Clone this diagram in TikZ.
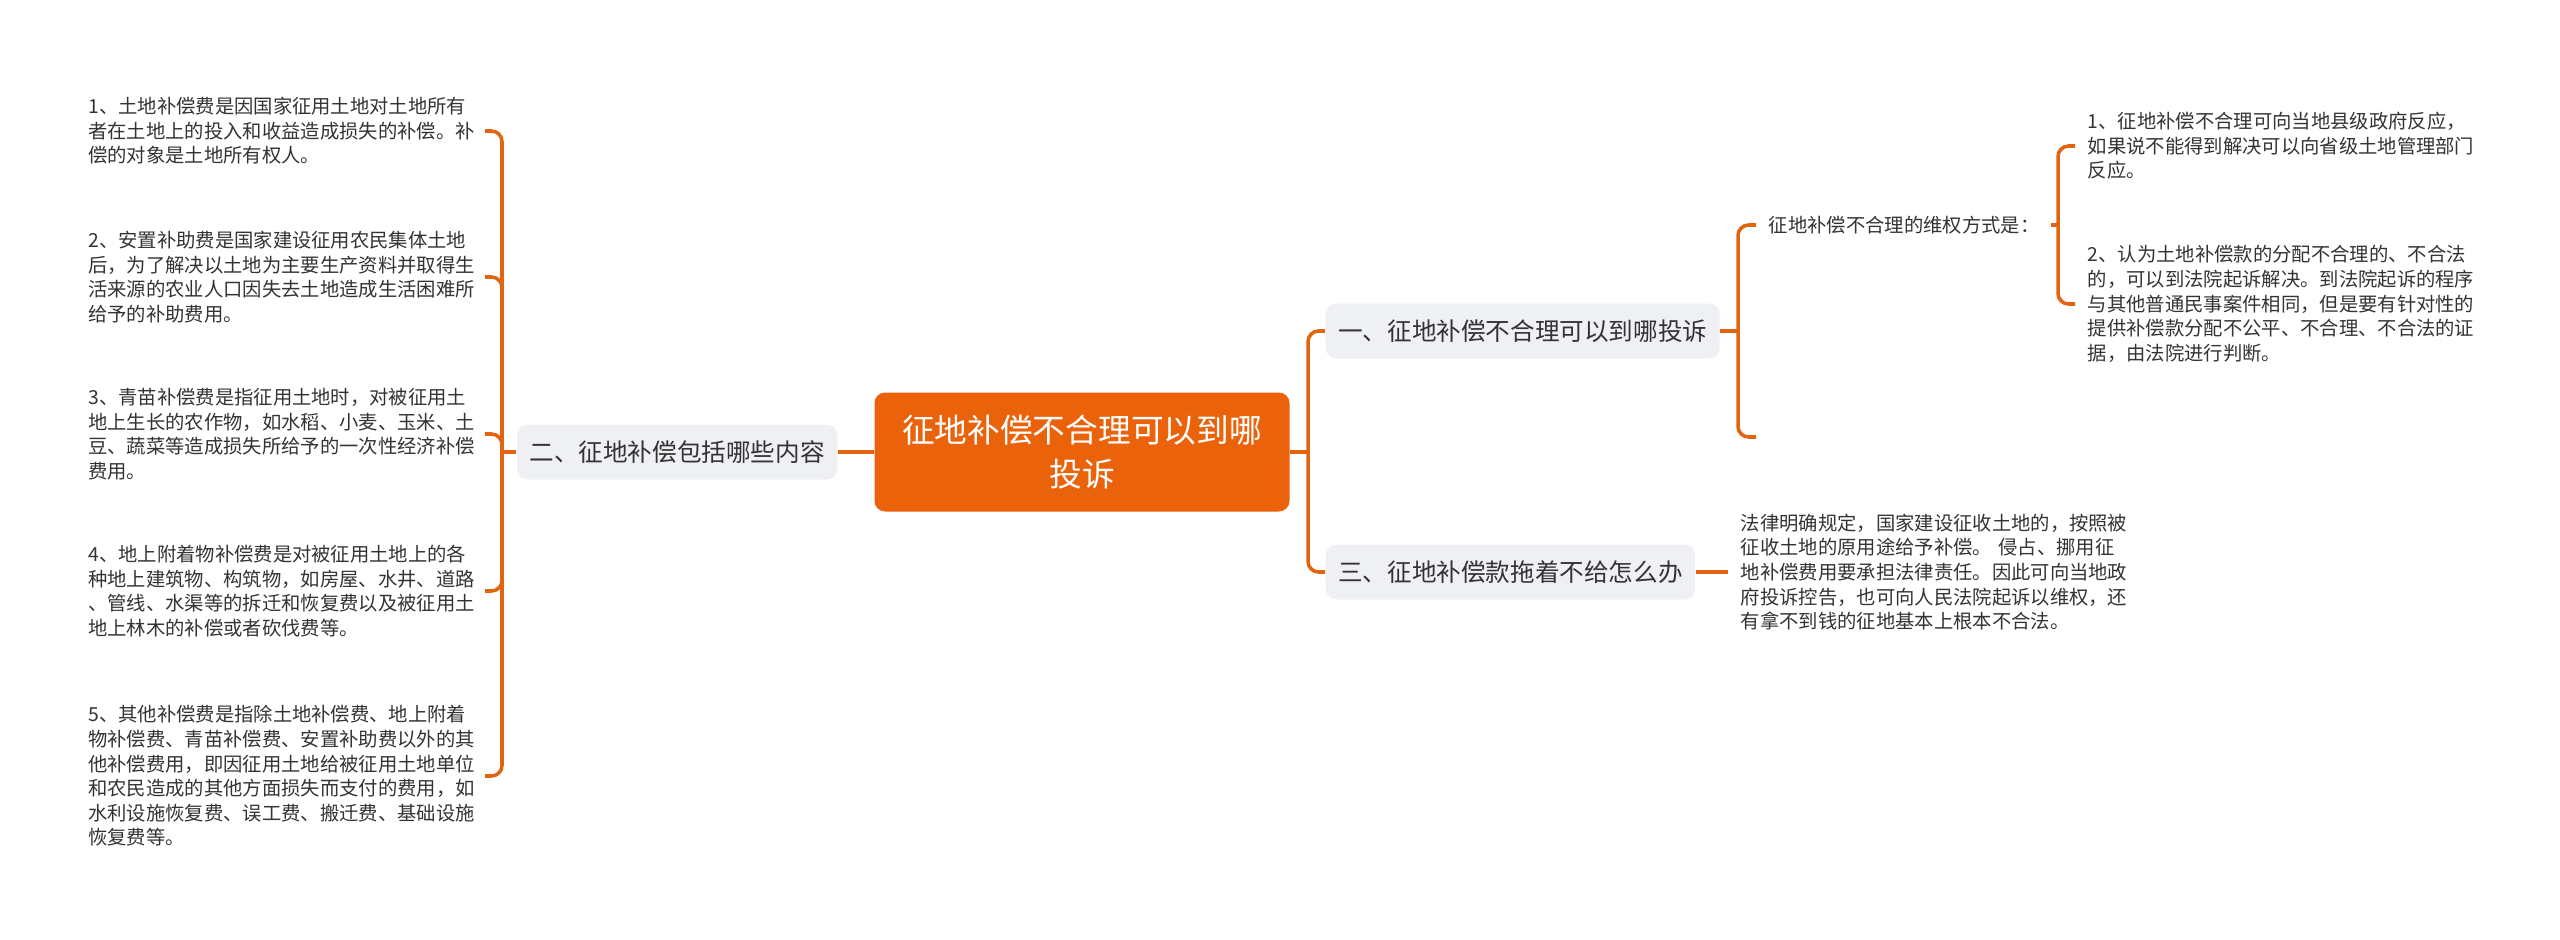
\documentclass[tikz,border=0pt]{standalone}
\usepackage{fontspec}
\setmainfont{Noto Sans CJK SC}
\usepackage{tikz}
\usepackage{xcolor}

\definecolor{rootfill}{HTML}{EA6209}
\definecolor{linkcol}{HTML}{E2640F}
\definecolor{topicfill}{HTML}{EEF0F3}
\definecolor{txt}{HTML}{333333}

\tikzset{
  root/.style={fill=rootfill, text=white, rounded corners=3pt, align=center,
    text width=38mm, minimum width=41.5mm, minimum height=11.9mm,
    font=\fontsize{9.3}{12.5}\selectfont},
  topic/.style={fill=topicfill, text=txt, rounded corners=3pt, inner xsep=1.25mm,
    minimum height=5.5mm, font=\fontsize{7}{8.5}\selectfont},
  leaf/.style={text=txt, align=left, inner xsep=1.2mm, inner ysep=0pt,
    text width=38.4mm, font=\fontsize{5.5}{7}\selectfont},
  link/.style={draw=linkcol, line width=1pt, rounded corners=3pt}
}

\begin{document}
\begin{tikzpicture}[x=0.1mm, y=-0.1mm]
\fill[white] (0,0) rectangle (2560,940);
\useasboundingbox (0,0) rectangle (2560,940);

% Root
\node[root] (root) at (1082,452) {征地补偿不合理可以到哪\\投诉};

% Topics
\node[topic, anchor=east] (t2) at (838,452) {二、征地补偿包括哪些内容};
\node[topic, anchor=west] (t1) at (1325,331) {一、征地补偿不合理可以到哪投诉};
\node[topic, anchor=west] (t3) at (1325,572) {三、征地补偿款拖着不给怎么办};

% Left leaves
\node[leaf, anchor=east] (l1) at (485,131) {1、土地补偿费是因国家征用土地对土地所有\\者在土地上的投入和收益造成损失的补偿。补\\偿的对象是土地所有权人。};
\node[leaf, anchor=east] (l2) at (485,277) {2、安置补助费是国家建设征用农民集体土地\\后，为了解决以土地为主要生产资料并取得生\\活来源的农业人口因失去土地造成生活困难所\\给予的补助费用。};
\node[leaf, anchor=east] (l3) at (485,434) {3、青苗补偿费是指征用土地时，对被征用土\\地上生长的农作物，如水稻、小麦、玉米、土\\豆、蔬菜等造成损失所给予的一次性经济补偿\\费用。};
\node[leaf, anchor=east] (l4) at (485,591) {4、地上附着物补偿费是对被征用土地上的各\\种地上建筑物、构筑物，如房屋、水井、道路\\、管线、水渠等的拆迁和恢复费以及被征用土\\地上林木的补偿或者砍伐费等。};
\node[leaf, anchor=east] (l5) at (485,776) {5、其他补偿费是指除土地补偿费、地上附着\\物补偿费、青苗补偿费、安置补助费以外的其\\他补偿费用，即因征用土地给被征用土地单位\\和农民造成的其他方面损失而支付的费用，如\\水利设施恢复费、误工费、搬迁费、基础设施\\恢复费等。};

% Right side
\node[leaf, anchor=west, text width=27mm] (s1) at (1756,225) {征地补偿不合理的维权方式是：};
\coordinate (e1) at (1756,437);
\node[leaf, anchor=west] (r1) at (2075,146) {1、征地补偿不合理可向当地县级政府反应，\\如果说不能得到解决可以向省级土地管理部门\\反应。};
\node[leaf, anchor=west] (r2) at (2075,304) {2、认为土地补偿款的分配不合理的、不合法\\的，可以到法院起诉解决。到法院起诉的程序\\与其他普通民事案件相同，但是要有针对性的\\提供补偿款分配不公平、不合理、不合法的证\\据，由法院进行判断。};
\node[leaf, anchor=west] (r3) at (1728,572) {法律明确规定，国家建设征收土地的，按照被\\征收土地的原用途给予补偿。 侵占、挪用征\\地补偿费用要承担法律责任。因此可向当地政\\府投诉控告，也可向人民法院起诉以维权，还\\有拿不到钱的征地基本上根本不合法。};

% Junctions
\coordinate (jr) at (1308,452);
\coordinate (jl) at (502,452);
\coordinate (j1) at (1738,331);
\coordinate (js) at (2058,225);

% Links
\draw[link] (root.west) -- (t2.east);
\draw[link] (t2.west) -- (jl);
\foreach \n in {l1,l2,l3,l4,l5}
  \draw[link] (jl) |- (\n.east);
\draw[link] (root.east) -- (jr);
\draw[link] (jr) |- (t1.west);
\draw[link] (jr) |- (t3.west);
\draw[link] (t1.east) -- (j1);
\draw[link] (j1) |- (s1.west);
\draw[link] (j1) |- (e1);
\draw[link] (s1.east) -- (js);
\draw[link] (js) |- (r1.west);
\draw[link] (js) |- (r2.west);
\draw[link] (t3.east) -- (r3.west);
\end{tikzpicture}
\end{document}
